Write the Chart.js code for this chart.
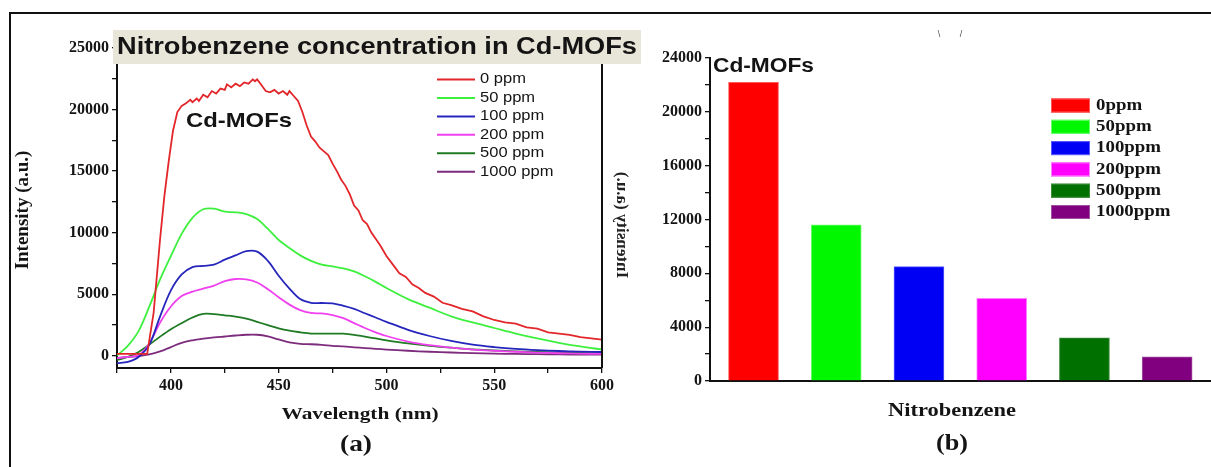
<!DOCTYPE html>
<html>
<head>
<meta charset="utf-8">
<script src="https://cdn.jsdelivr.net/npm/chart.js@4/dist/chart.umd.min.js"></script>
<style>
  body { margin: 0; background: #fff; width: 1211px; height: 467px; overflow: hidden; position: relative; }
  #frame { position: absolute; left: 9px; top: 12px; width: 1210px; height: 470px; border-left: 2.5px solid #111; border-top: 2.5px solid #111; }
  #ca { position: absolute; left: 0; top: 0; }
  #cb { position: absolute; left: 645px; top: 0; }
</style>
</head>
<body>
<div id="frame"></div>
<canvas id="ca" width="645" height="467"></canvas>
<canvas id="cb" width="566" height="467"></canvas>
<script>
// ---- (a) emission spectra ----
const seriesLabels = ["0 ppm", "50 ppm", "100 ppm", "200 ppm", "500 ppm", "1000 ppm"];
const lineColors = ["#e3262a", "#3ef03e", "#2626bd", "#f040f0", "#1f7a24", "#7d2c7d"];
const yTicksA = [0, 2500, 5000, 7500, 10000, 12500, 15000, 17500, 20000, 22500, 25000];
const xTicksA = [375, 400, 425, 450, 475, 500, 525, 550, 575, 600];

// red curve is noisy, so it gets its own wavelength list
const wlRed = [375, 380, 385, 389, 392, 395, 397, 399, 401, 403, 405, 407, 409, 410, 412, 413, 415, 417,
  419, 421, 423, 425, 426, 428, 430, 432, 434, 436, 438, 439, 440, 442, 444, 446, 448, 450, 452, 454, 455,
  457, 459, 461, 463, 465, 467, 469, 471, 473, 475, 477, 479, 481, 483, 485, 487, 489, 491, 493, 495, 497,
  500, 503, 506, 509, 512, 515, 518, 522, 526, 530, 535, 540, 545, 550, 555, 560, 565, 570, 575, 580, 585,
  590, 595, 600];
const red0 = [150, 150, 150, 150, 3500, 9500, 13000, 15800, 18300, 19800, 20300, 20500, 20800, 20600, 20900,
  20700, 21200, 21000, 21500, 21300, 21700, 21600, 22050, 21800, 22100, 21900, 22200, 22100, 22450, 22300,
  22450, 22000, 21500, 21400, 21600, 21300, 21500, 21200, 21500, 21100, 20700, 19800, 18700, 17800, 17400,
  16900, 16600, 16300, 15600, 15000, 14300, 13800, 13100, 12200, 11800, 11000, 10700, 10000, 9500, 9000,
  8100, 7400, 6700, 6400, 5800, 5500, 5100, 4800, 4300, 4100, 3800, 3600, 3200, 2900, 2700, 2600, 2300,
  2200, 1900, 1800, 1700, 1500, 1400, 1300];

const wl = [375, 380, 385, 390, 395, 400, 405, 410, 415, 420, 425, 430, 435, 440, 445, 450, 455, 460, 465,
  470, 475, 480, 485, 490, 495, 500, 510, 520, 530, 540, 550, 560, 570, 580, 590, 600];
const green50 = [0, 800, 2000, 4000, 6200, 8100, 9900, 11200, 11900, 11950, 11700, 11650, 11500, 11100, 10300,
  9400, 8750, 8150, 7700, 7400, 7250, 7100, 6850, 6450, 6000, 5500, 4600, 3900, 3200, 2700, 2250, 1800, 1400,
  1050, 750, 500];
const blue100 = [-600, -500, -100, 900, 3200, 5300, 6600, 7200, 7300, 7400, 7800, 8150, 8500, 8450, 7700,
  6500, 5450, 4600, 4300, 4280, 4250, 4050, 3800, 3450, 3100, 2750, 2100, 1600, 1200, 900, 700, 550, 450,
  380, 330, 300];
const pink200 = [-200, -100, 50, 1000, 2700, 4000, 4850, 5200, 5450, 5700, 6050, 6230, 6200, 5950, 5400,
  4750, 4150, 3700, 3470, 3430, 3300, 3050, 2650, 2250, 1900, 1600, 1150, 850, 650, 500, 400, 320, 250, 200,
  170, 150];
const dkgreen500 = [-350, -100, 300, 900, 1550, 2150, 2650, 3100, 3400, 3380, 3280, 3180, 3020, 2750, 2480,
  2220, 2030, 1900, 1800, 1790, 1790, 1790, 1700, 1550, 1400, 1250, 1000, 800, 650, 520, 420, 350, 300, 260,
  230, 200];
const purple1000 = [-200, -100, -30, 100, 350, 700, 1050, 1250, 1380, 1480, 1560, 1640, 1700, 1700, 1570,
  1320, 1080, 960, 930, 880, 800, 750, 680, 620, 560, 500, 400, 320, 260, 210, 170, 140, 120, 100, 90, 80];

// ---- (b) bar chart ----
const barLabels = ["0ppm", "50ppm", "100ppm", "200ppm", "500ppm", "1000ppm"];
const barValues = [22200, 11600, 8500, 6150, 3200, 1800];
const barColors = ["#ff0000", "#00f700", "#0000f5", "#ff00ff", "#007000", "#800080"];
const barEdges = ["#ff5a5a", "#6cff6c", "#5a5aff", "#ff80ff", "#3c8c3c", "#a050a0"];
const yTicksB = [0, 2000, 4000, 6000, 8000, 10000, 12000, 14000, 16000, 18000, 20000, 22000, 24000];

const serif = "'Liberation Serif', 'Times New Roman', serif";
const sans = "'Liberation Sans', Arial, sans-serif";
const ink = "#141414";

function toXY(xs, ys) {
  return ys.map((y, i) => ({ x: xs[i], y: y }));
}

// draw text squeezed/stretched horizontally to a given width
function fitText(ctx, text, x, y, w, font, align) {
  ctx.save();
  ctx.font = font;
  ctx.fillStyle = ink;
  ctx.textBaseline = "middle";
  ctx.textAlign = "left";
  const m = ctx.measureText(text).width;
  const left = align === "center" ? x - w / 2 : x;
  ctx.translate(left, y);
  ctx.scale(w / m, 1);
  ctx.fillText(text, 0, 0);
  ctx.restore();
}

function wideText(ctx, text, x, y, sx, font) {
  ctx.save();
  ctx.font = font;
  ctx.fillStyle = ink;
  ctx.textBaseline = "middle";
  ctx.textAlign = "left";
  ctx.translate(x, y);
  ctx.scale(sx, 1);
  ctx.fillText(text, 0, 0);
  ctx.restore();
}

const spectraSets = [red0, green50, blue100, pink200, dkgreen500, purple1000].map((vals, i) => ({
  label: seriesLabels[i],
  data: i === 0 ? toXY(wlRed, vals) : toXY(wl, vals),
  borderColor: lineColors[i],
  borderWidth: 1.8,
  pointRadius: 0,
  tension: i === 0 ? 0 : 0.35,
  fill: false
}));

const decorA = {
  id: "decorA",
  afterDraw(chart) {
    const ctx = chart.ctx;
    const a = chart.chartArea;
    // right and top of the frame
    ctx.save();
    ctx.strokeStyle = "#111";
    ctx.lineWidth = 2;
    ctx.beginPath();
    ctx.moveTo(a.left, a.top);
    ctx.lineTo(a.right, a.top);
    ctx.lineTo(a.right, a.bottom);
    ctx.stroke();
    ctx.restore();

    // title banner
    ctx.fillStyle = "#e8e5d9";
    ctx.fillRect(113, 30, 528, 34);
    fitText(ctx, "Nitrobenzene concentration in Cd-MOFs", 117, 47.5, 520, "bold 23px " + sans);

    fitText(ctx, "Cd-MOFs", 186, 121, 106, "bold 21px " + sans);

    // legend
    chart.data.datasets.forEach((ds, i) => {
      const y = 79.5 + i * 18.45;
      ctx.strokeStyle = ds.borderColor;
      ctx.lineWidth = 2;
      ctx.beginPath();
      ctx.moveTo(437, y);
      ctx.lineTo(475, y);
      ctx.stroke();
      wideText(ctx, ds.label, 480, y, 1.18, "14px " + sans);
    });

    // axis titles
    fitText(ctx, "Wavelength (nm)", 360, 415, 157, "bold 17px " + serif, "center");
    ctx.save();
    ctx.translate(23, 210);
    ctx.rotate(-Math.PI / 2);
    ctx.font = "bold 19px " + serif;
    ctx.fillStyle = ink;
    ctx.textAlign = "center";
    ctx.textBaseline = "middle";
    ctx.fillText("Intensity (a.u.)", 0, 0);
    ctx.restore();

    fitText(ctx, "(a)", 356, 445, 32, "bold 24px " + serif, "center");

    // mirrored axis title peeking from panel (b)
    ctx.save();
    ctx.beginPath();
    ctx.rect(612, 140, 18, 170);
    ctx.clip();
    ctx.translate(621, 225);
    ctx.rotate(-Math.PI / 2);
    ctx.scale(1, -1);
    ctx.font = "bold 17px " + serif;
    ctx.fillStyle = "#222";
    ctx.textAlign = "center";
    ctx.textBaseline = "middle";
    ctx.fillText("Intensity (a.u.)", 0, 0);
    ctx.restore();
  }
};

new Chart(document.getElementById("ca"), {
  type: "line",
  data: { datasets: spectraSets },
  options: {
    responsive: false,
    animation: false,
    devicePixelRatio: 1,
    layout: { padding: { left: 0, top: 48, right: 43, bottom: 0 } },
    plugins: { legend: { display: false }, tooltip: { enabled: false } },
    scales: {
      x: {
        type: "linear",
        min: 375,
        max: 600,
        afterFit(s) { s.height = 99; },
        afterBuildTicks(s) { s.ticks = xTicksA.map((v) => ({ value: v })); },
        grid: { drawOnChartArea: false, drawTicks: true, tickLength: 5, color: "#111", lineWidth: 1.3 },
        border: { display: true, color: "#111", width: 2 },
        ticks: {
          autoSkip: false,
          maxRotation: 0,
          padding: 3,
          color: ink,
          font: { family: serif, size: 16, weight: "bold" },
          callback: (v) => (v % 50 === 0 ? String(v) : "")
        }
      },
      y: {
        min: -1000,
        max: 25000,
        afterFit(s) { s.width = 117; },
        afterBuildTicks(s) { s.ticks = yTicksA.map((v) => ({ value: v })); },
        grid: { drawOnChartArea: false, drawTicks: true, tickLength: 5, color: "#111", lineWidth: 1.3 },
        border: { display: true, color: "#111", width: 2 },
        ticks: {
          autoSkip: false,
          padding: 3,
          color: ink,
          font: { family: serif, size: 16, weight: "bold" },
          callback: (v) => (v % 5000 === 0 ? String(v) : "")
        }
      }
    }
  },
  plugins: [decorA]
});

const decorB = {
  id: "decorB",
  afterDraw(chart) {
    const ctx = chart.ctx;
    const ox = 645; // canvas offset on the page
    fitText(ctx, "Cd-MOFs", 713 - ox, 66, 101, "bold 20px " + sans);

    barLabels.forEach((lab, i) => {
      const y = 105.5 + i * 21.3;
      ctx.fillStyle = barColors[i];
      ctx.fillRect(1051 - ox, y - 7, 39, 14);
      ctx.strokeStyle = barEdges[i];
      ctx.lineWidth = 1;
      ctx.strokeRect(1051.5 - ox, y - 6.5, 38, 13);
      wideText(ctx, lab, 1096 - ox, y, 1.18, "bold 16px " + serif);
    });

    fitText(ctx, "Nitrobenzene", 952 - ox, 411, 128, "bold 18px " + serif, "center");
    fitText(ctx, "(b)", 952 - ox, 444, 32, "bold 24px " + serif, "center");

    // faint fragments at the top
    ctx.font = "9px " + sans;
    ctx.fillStyle = "#555";
    ctx.textAlign = "center";
    ctx.textBaseline = "middle";
    ctx.fillText("\\", 939 - ox, 35);
    ctx.fillText("/", 961 - ox, 35);
  }
};

new Chart(document.getElementById("cb"), {
  type: "bar",
  data: {
    datasets: [{
      label: "Nitrobenzene",
      data: toXY([1, 2, 3, 4, 5, 6], barValues),
      backgroundColor: barColors,
      borderColor: barEdges,
      borderWidth: 1,
      barThickness: 50
    }]
  },
  options: {
    responsive: false,
    animation: false,
    devicePixelRatio: 1,
    layout: { padding: { left: 0, top: 58, right: 0, bottom: 0 } },
    plugins: { legend: { display: false }, tooltip: { enabled: false } },
    scales: {
      x: {
        type: "linear",
        min: 0.474,
        max: 6.53,
        offset: false,
        afterFit(s) { s.height = 86; },
        grid: { display: false, offset: false },
        border: { display: true, color: "#111", width: 2 },
        ticks: { display: false }
      },
      y: {
        min: 0,
        max: 24000,
        afterFit(s) { s.width = 65; },
        afterBuildTicks(s) { s.ticks = yTicksB.map((v) => ({ value: v })); },
        grid: { drawOnChartArea: false, drawTicks: true, tickLength: 5, color: "#111", lineWidth: 1.3 },
        border: { display: true, color: "#111", width: 2 },
        ticks: {
          autoSkip: false,
          padding: 3,
          color: ink,
          font: { family: serif, size: 16, weight: "bold" },
          callback: (v) => (v % 4000 === 0 ? String(v) : "")
        }
      }
    }
  },
  plugins: [decorB]
});
</script>
</body>
</html>
